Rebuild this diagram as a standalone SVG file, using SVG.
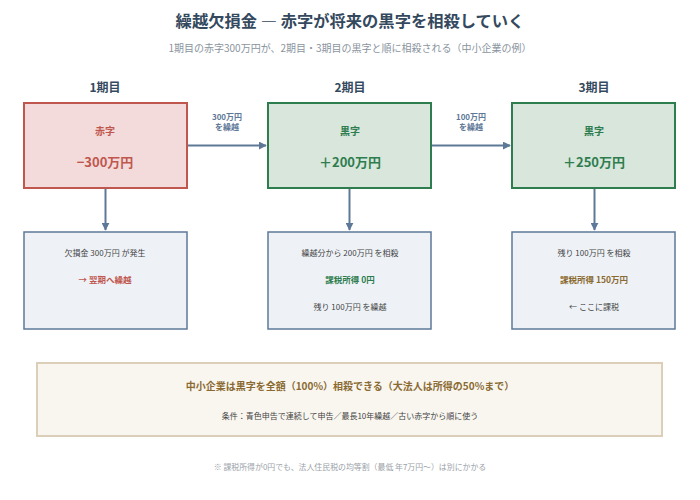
<svg xmlns="http://www.w3.org/2000/svg" width="700" height="500" viewBox="0 0 700 500">
<style>
text{font-family:"Noto Sans CJK JP","Noto Sans",sans-serif;text-anchor:middle}
.title{font-size:16.3px;font-weight:bold;fill:#34495e}
.sub{font-size:10px;fill:#8a949e}
.period{font-size:12px;font-weight:bold;fill:#34495e}
.red{fill:#f2dbda;stroke:#c0574e;stroke-width:2}
.green{fill:#d8e6dc;stroke:#2e7d4e;stroke-width:2}
.info{fill:#eef2f7;stroke:#5e7898;stroke-width:1.5}
.note{fill:#f9f6f0;stroke:#dccfba;stroke-width:2}
.lbl{font-size:10px;font-weight:bold}
.big{font-size:13px;font-weight:bold}
.t9{font-size:8px;fill:#444}
.b9{font-size:8.5px;font-weight:bold}
.conn{stroke:#5e7898;stroke-width:2;fill:none}
.clbl{font-size:8px;font-weight:bold;fill:#5e7898}
</style>
<defs>
<marker id="ah" viewBox="0 0 10 10" refX="9" refY="5" markerWidth="4" markerHeight="4" orient="auto"><path d="M0,0L10,5L0,10z" fill="#5e7898"/></marker>
</defs>
<rect width="700" height="500" fill="#ffffff"/>
<text class="title" x="350" y="27">繰越欠損金 ― 赤字が将来の黒字を相殺していく</text>
<text class="sub" x="350" y="52">1期目の赤字300万円が、2期目・3期目の黒字と順に相殺される（中小企業の例）</text>
<text class="period" x="105" y="92">1期目</text>
<text class="period" x="350" y="92">2期目</text>
<text class="period" x="594" y="92">3期目</text>
<g id="connectors">
<line class="conn" x1="188" y1="145.5" x2="266" y2="145.5" marker-end="url(#ah)"/>
<line class="conn" x1="432" y1="145.5" x2="510" y2="145.5" marker-end="url(#ah)"/>
<line class="conn" x1="105.5" y1="189" x2="105.5" y2="230" stroke-width="1.5" marker-end="url(#ah)"/>
<line class="conn" x1="349.5" y1="189" x2="349.5" y2="230" stroke-width="1.5" marker-end="url(#ah)"/>
<line class="conn" x1="594.5" y1="189" x2="594.5" y2="230" stroke-width="1.5" marker-end="url(#ah)"/>
<text class="clbl" x="227" y="120">300万円</text>
<text class="clbl" x="227" y="130">を繰越</text>
<text class="clbl" x="471" y="120">100万円</text>
<text class="clbl" x="471" y="130">を繰越</text>
</g>
<g id="p1">
<rect class="red" x="24" y="103" width="163" height="85"/>
<text class="lbl" x="105" y="135" fill="#c0574e">赤字</text>
<text class="big" x="105" y="167" fill="#c0574e">−300万円</text>
</g>
<g id="p2">
<rect class="green" x="268" y="103" width="163" height="85"/>
<text class="lbl" x="350" y="135" fill="#2e7d4e">黒字</text>
<text class="big" x="350" y="167" fill="#2e7d4e">＋200万円</text>
</g>
<g id="p3">
<rect class="green" x="512" y="103" width="163" height="85"/>
<text class="lbl" x="594" y="135" fill="#2e7d4e">黒字</text>
<text class="big" x="594" y="167" fill="#2e7d4e">＋250万円</text>
</g>
<g id="d1">
<rect class="info" x="24" y="232" width="163" height="97"/>
<text class="t9" x="105" y="256">欠損金 300万円 が発生</text>
<text class="b9" x="105" y="283" fill="#c0574e">→ 翌期へ繰越</text>
</g>
<g id="d2">
<rect class="info" x="268" y="232" width="163" height="97"/>
<text class="t9" x="350" y="256">繰越分から 200万円 を相殺</text>
<text class="b9" x="350" y="283" fill="#2e7d4e">課税所得 0円</text>
<text class="t9" x="350" y="310">残り 100万円 を繰越</text>
</g>
<g id="d3">
<rect class="info" x="512" y="232" width="163" height="97"/>
<text class="t9" x="594" y="256">残り 100万円 を相殺</text>
<text class="b9" x="594" y="283" fill="#8a6a30">課税所得 150万円</text>
<text class="t9" x="594" y="310">← ここに課税</text>
</g>
<g id="note">
<rect class="note" x="37" y="363" width="625" height="73"/>
<text x="350" y="390" font-size="10" font-weight="bold" fill="#8a6a30">中小企業は黒字を全額（100%）相殺できる（大法人は所得の50%まで）</text>
<text x="350" y="419" font-size="8" fill="#444">条件：青色申告で連続して申告／最長10年繰越／古い赤字から順に使う</text>
</g>
<text x="350" y="470" font-size="7.9" fill="#9aa1a8">※ 課税所得が0円でも、法人住民税の均等割（最低 年7万円〜）は別にかかる</text>
</svg>
